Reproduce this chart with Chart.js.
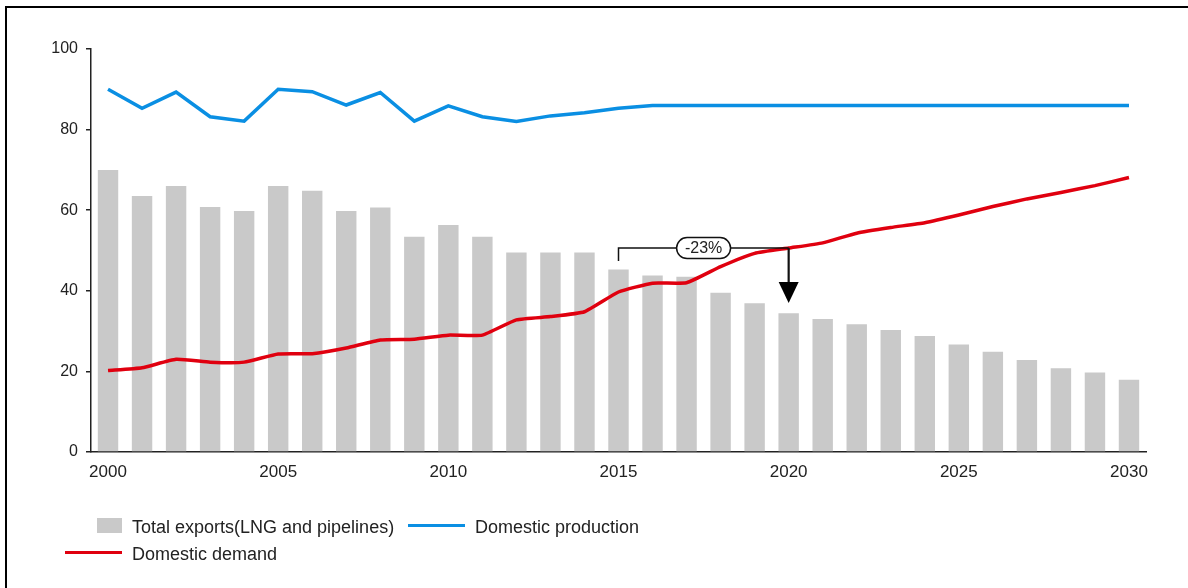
<!DOCTYPE html>
<html>
<head>
<meta charset="utf-8">
<script src="https://cdn.jsdelivr.net/npm/chart.js@4.4.1/dist/chart.umd.min.js"></script>
<style>
  html, body { margin: 0; padding: 0; background: #fff; }
  #wrap { position: relative; width: 1188px; height: 588px; overflow: hidden; font-family: "Liberation Sans", Arial, sans-serif; }
  #c { position: absolute; left: 0; top: 0; }
  .frame { position: absolute; left: 5px; top: 6px; width: 1200px; height: 600px; border-top: 2px solid #000; border-left: 2px solid #000; }
  .lg { position: absolute; font-size: 18px; color: #222; line-height: 20px; white-space: nowrap; }
  .sw { position: absolute; }
</style>
</head>
<body>
<div id="wrap">
  <canvas id="c" width="1188" height="588"></canvas>
  <div class="frame"></div>
  <div class="sw" style="left:97px;top:518px;width:25px;height:15px;background:#c9c9c9;"></div>
  <div class="lg" id="lg1" style="left:132px;top:517px;"></div>
  <div class="sw" style="left:408px;top:524px;width:57px;height:3px;background:#0a8fe3;"></div>
  <div class="lg" id="lg2" style="left:475px;top:517px;"></div>
  <div class="sw" style="left:65px;top:551px;width:57px;height:3px;background:#e0000f;"></div>
  <div class="lg" id="lg3" style="left:132px;top:544px;"></div>
</div>
<script>
// ---- data ----
const years = ['2000','2001','2002','2003','2004','2005','2006','2007','2008','2009','2010',
  '2011','2012','2013','2014','2015','2016','2017','2018','2019','2020',
  '2021','2022','2023','2024','2025','2026','2027','2028','2029','2030'];
const xTickLabels = ['2000','2005','2010','2015','2020','2025','2030'];
const yTicks = [0, 20, 40, 60, 80, 100];

const totalExports = [70, 63.5, 66, 60.8, 59.8, 66, 64.8, 59.8, 60.7, 53.4, 56.3,
  53.4, 49.5, 49.5, 49.5, 45.3, 43.8, 43.5, 39.5, 36.9, 34.4,
  33.0, 31.7, 30.3, 28.8, 26.7, 24.9, 22.8, 20.8, 19.7, 17.9];
const domesticProduction = [90.0, 85.3, 89.3, 83.2, 82.1, 90.0, 89.4, 86.1, 89.2, 82.1, 85.9,
  83.2, 82.0, 83.4, 84.2, 85.3, 86, 86, 86, 86, 86,
  86, 86, 86, 86, 86, 86, 86, 86, 86, 86];
const domesticDemand = [20.2, 20.9, 23.0, 22.3, 22.3, 24.3, 24.4, 25.8, 27.8, 28.0, 29.0,
  29.0, 32.8, 33.6, 34.8, 39.7, 41.9, 42.0, 46.0, 49.3, 50.6,
  51.9, 54.3, 55.7, 56.9, 58.8, 60.9, 62.8, 64.4, 66.1, 68.1];

const seriesNames = ['Total exports(LNG and pipelines)', 'Domestic production', 'Domestic demand'];

// annotation (data space)
const annotFrom = '2015';
const annotTo = '2020';
const annotLevel = 50.6;
const annotBracketBottom = 47.4;
const annotArrowTip = 37.0;
const annotLabel = '-23%';

document.getElementById('lg1').textContent = seriesNames[0];
document.getElementById('lg2').textContent = seriesNames[1];
document.getElementById('lg3').textContent = seriesNames[2];

const FONT = '"Liberation Sans", Arial, sans-serif';

const annotPlugin = {
  id: 'annot',
  afterDatasetsDraw(chart) {
    const ctx = chart.ctx, xs = chart.scales.x, ys = chart.scales.y;
    const x1 = xs.getPixelForValue(years.indexOf(annotFrom));
    const x2 = xs.getPixelForValue(years.indexOf(annotTo));
    const yl = ys.getPixelForValue(annotLevel);
    const yb = ys.getPixelForValue(annotBracketBottom);
    const yt = ys.getPixelForValue(annotArrowTip);
    ctx.save();
    ctx.strokeStyle = '#111';
    ctx.lineWidth = 1.5;
    ctx.beginPath();
    ctx.moveTo(x1, yb); ctx.lineTo(x1, yl); ctx.lineTo(x2, yl);
    ctx.stroke();
    ctx.lineWidth = 2.2;
    ctx.beginPath();
    ctx.moveTo(x2, yl); ctx.lineTo(x2, yt - 18);
    ctx.stroke();
    ctx.fillStyle = '#000';
    ctx.beginPath();
    ctx.moveTo(x2 - 10, yt - 21); ctx.lineTo(x2 + 10, yt - 21); ctx.lineTo(x2, yt);
    ctx.closePath(); ctx.fill();
    const cx = (xs.getPixelForValue(years.indexOf('2017')) + xs.getPixelForValue(years.indexOf('2018'))) / 2;
    const w = 54, h = 21, r = 10.5;
    ctx.beginPath();
    ctx.moveTo(cx - w/2 + r, yl - h/2);
    ctx.lineTo(cx + w/2 - r, yl - h/2);
    ctx.arc(cx + w/2 - r, yl, r, -Math.PI/2, Math.PI/2);
    ctx.lineTo(cx - w/2 + r, yl + h/2);
    ctx.arc(cx - w/2 + r, yl, r, Math.PI/2, Math.PI*1.5);
    ctx.closePath();
    ctx.fillStyle = '#fff'; ctx.fill();
    ctx.lineWidth = 1.5; ctx.strokeStyle = '#111'; ctx.stroke();
    ctx.fillStyle = '#222';
    ctx.font = '16px ' + FONT;
    ctx.textAlign = 'center'; ctx.textBaseline = 'middle';
    ctx.fillText(annotLabel, cx, yl + 1);
    ctx.restore();
  }
};

new Chart(document.getElementById('c'), {
  type: 'bar',
  data: {
    labels: years,
    datasets: [
      { type: 'line', label: seriesNames[1], data: domesticProduction, borderColor: '#0a8fe3', borderWidth: 3.5,
        pointRadius: 0, tension: 0, fill: false, order: 1 },
      { type: 'line', label: seriesNames[2], data: domesticDemand, borderColor: '#e0000f', borderWidth: 3.5,
        pointRadius: 0, tension: 0.15, fill: false, order: 2 },
      { type: 'bar', label: seriesNames[0], data: totalExports, backgroundColor: '#c9c9c9',
        categoryPercentage: 1, barPercentage: 0.6, order: 3 }
    ]
  },
  options: {
    responsive: false,
    animation: false,
    events: [],
    layout: { padding: { left: 0, top: 49, right: 42, bottom: 96 } },
    plugins: { legend: { display: false }, tooltip: { enabled: false } },
    scales: {
      x: {
        offset: true,
        grid: { display: false, drawTicks: false },
        border: { display: true, color: '#222', width: 1.5 },
        ticks: {
          autoSkip: false, maxRotation: 0, padding: 10,
          color: '#222', font: { family: FONT, size: 17 },
          callback(v) { const l = years[v]; return xTickLabels.includes(l) ? l : ''; }
        },
        afterFit(s) { s.height = 40; }
      },
      y: {
        min: 0, max: 100,
        afterBuildTicks(s) { s.ticks = yTicks.map(v => ({ value: v })); },
        grid: { display: true, drawOnChartArea: false, drawTicks: true, tickLength: 5, color: '#222', lineWidth: 1.5 },
        border: { display: true, color: '#222', width: 1.5 },
        ticks: { padding: 8, color: '#222', font: { family: FONT, size: 16 } },
        afterFit(s) { s.width = 91; }
      }
    }
  },
  plugins: [annotPlugin]
});
</script>
</body>
</html>
